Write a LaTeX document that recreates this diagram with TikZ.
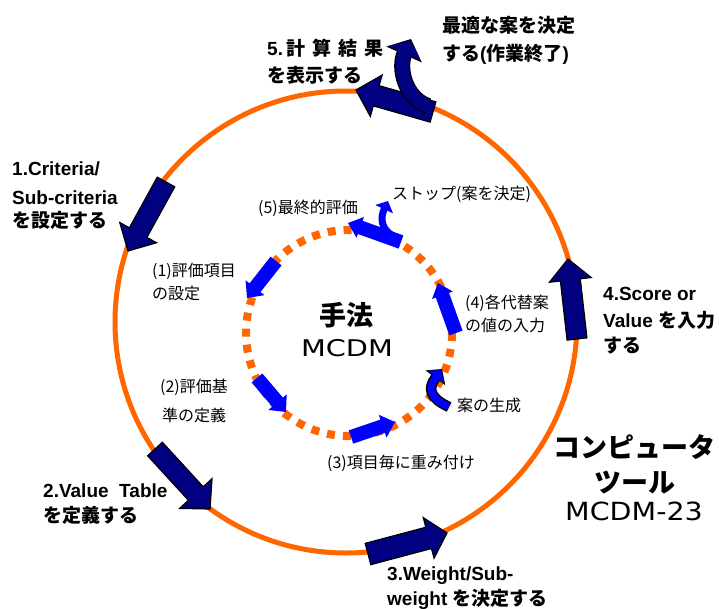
\documentclass[tikz,border=0pt]{standalone}
\usepackage{fontspec}
\usepackage{graphicx}
\setmainfont{Noto Sans CJK JP}
\newfontfamily\lat{Liberation Sans}
\newfontfamily\dvs{DejaVu Sans}
\usetikzlibrary{calc,arrows.meta}
\definecolor{navyc}{RGB}{0,0,128}
\definecolor{orangec}{RGB}{255,102,0}
\definecolor{bluec}{RGB}{0,0,255}
% style, tail, tip, body half width, head half width, head length
\newcommand\blockarrow[6]{%
  \coordinate (#2h) at ($(#3)!#6!(#2)$);
  \path[#1] ($(#2)!#4!90:(#3)$) -- ($(#2h)!#4!90:(#3)$) -- ($(#2h)!#5!90:(#3)$) -- (#3)
    -- ($(#2h)!#5!-90:(#3)$) -- ($(#2h)!#4!-90:(#3)$) -- ($(#2)!#4!-90:(#3)$) -- cycle;}
\tikzset{
  outerarrow/.style={fill=navyc, draw=black, line width=1.2pt, line join=miter},
  innerarrow/.style={fill=bluec},
  outerlbl/.style={anchor=base west, inner sep=0pt, font=\fontsize{19}{19}\selectfont\bfseries},
  innerlbl/.style={anchor=base west, inner sep=0pt, font=\fontsize{16}{16}\selectfont},
  biglbl/.style={anchor=base, inner sep=0pt, font=\fontsize{27}{27}\selectfont\bfseries},
  latlbl/.style={anchor=base, inner sep=0pt},
}
\begin{document}
\begin{tikzpicture}[x=1pt,y=-1pt]
\useasboundingbox (0,0) rectangle (719,608);
% circles
\coordinate (oc) at (346,322);
\draw[orangec, line width=5pt] (oc) circle[radius=231];
\coordinate (ic) at (349,333);
\draw[orangec, line width=8pt, dash pattern=on 8pt off 8pt] (ic) circle[radius=103];

% outer block arrows
\coordinate (a1t) at (166,182); \coordinate (a1e) at (128,251);
\blockarrow{outerarrow}{a1t}{a1e}{10pt}{21pt}{21pt}
\coordinate (a2t) at (155,449); \coordinate (a2e) at (210,509);
\blockarrow{outerarrow}{a2t}{a2e}{10pt}{22pt}{21pt}
\coordinate (a3t) at (368,554); \coordinate (a3e) at (447,533);
\blockarrow{outerarrow}{a3t}{a3e}{11pt}{21pt}{19pt}
\coordinate (a4t) at (577,339); \coordinate (a4e) at (568,259);
\blockarrow{outerarrow}{a4t}{a4e}{10pt}{21pt}{21pt}
\coordinate (a5t) at (433,112); \coordinate (a5e) at (356,90);
\blockarrow{outerarrow}{a5t}{a5e}{10.5pt}{21.5pt}{21pt}
% branch of arrow 5
\coordinate (b5s) at (428,106); \coordinate (b5c1) at (405,98);
\coordinate (b5c2) at (398,68); \coordinate (b5e) at (411,39);
\draw[black, line width=16pt, -{Triangle[width=38pt,length=17pt]}] (b5s) .. controls (b5c1) and (b5c2) .. (b5e);
\draw[navyc, line width=13.5pt, shorten >=1.6pt, -{Triangle[width=34pt,length=14pt]}] (b5s) .. controls (b5c1) and (b5c2) .. (b5e);

% inner arrows
\coordinate (i1t) at (276,261); \coordinate (i1e) at (247,298);
\blockarrow{innerarrow}{i1t}{i1e}{7pt}{12pt}{13pt}
\coordinate (i2t) at (257,378); \coordinate (i2e) at (286,412);
\blockarrow{innerarrow}{i2t}{i2e}{7pt}{12pt}{13pt}
\coordinate (i3t) at (351,437); \coordinate (i3e) at (395,422);
\blockarrow{innerarrow}{i3t}{i3e}{7pt}{12pt}{13pt}
\coordinate (i4t) at (456,333); \coordinate (i4e) at (438,283);
\blockarrow{innerarrow}{i4t}{i4e}{7pt}{11pt}{13pt}
\coordinate (i5t) at (401,242); \coordinate (i5e) at (348,223);
\blockarrow{innerarrow}{i5t}{i5e}{7pt}{11pt}{13pt}
% branch of inner arrow 5
\coordinate (b6s) at (393,236); \coordinate (b6c1) at (381,229);
\coordinate (b6c2) at (380,218); \coordinate (b6e) at (388,201);
\draw[bluec, line width=7pt, -{Triangle[width=19pt,length=9pt]}] (b6s) .. controls (b6c1) and (b6c2) .. (b6e);
% generation arrow
\coordinate (g1s) at (449,407); \coordinate (g1c1) at (430,398);
\coordinate (g1c2) at (427,389); \coordinate (g1e) at (442,369);
\draw[black, line width=10.5pt, -{Triangle[width=24pt,length=11pt]}] (g1s) .. controls (g1c1) and (g1c2) .. (g1e);
\draw[bluec, line width=7.5pt, shorten >=1.5pt, -{Triangle[width=20pt,length=8.5pt]}] (g1s) .. controls (g1c1) and (g1c2) .. (g1e);

% outer labels
\node[outerlbl] (l5a) at (267,55) {{\lat 5.}\hspace{3pt}計\hspace{7pt}算\hspace{7pt}結\hspace{7pt}果};
\node[outerlbl] (l5b) at (267,82) {を表示する};
\node[outerlbl] (l6a) at (442,32) {最適な案を決定};
\node[outerlbl] (l6b) at (442,60) {する{\lat(}作業終了{\lat)}};
\node[outerlbl] (l1a) at (12,175) {\lat 1.Criteria/};
\node[outerlbl] (l1b) at (12,204) {\lat Sub-criteria};
\node[outerlbl] (l1c) at (12,227) {を設定する};
\node[outerlbl] (l2a) at (43,497) {\lat 2.Value\ \ Table};
\node[outerlbl] (l2b) at (43,522) {を定義する};
\node[outerlbl] (l3a) at (387,580) {\lat 3.Weight/Sub-};
\node[outerlbl] (l3b) at (387,605) {{\lat weight }を決定する};
\node[outerlbl] (l4a) at (603,300) {\lat 4.Score or};
\node[outerlbl] (l4b) at (603,327) {{\lat Value }を入力};
\node[outerlbl] (l4c) at (603,352) {する};

% inner labels
\node[innerlbl] (k5) at (258,213) {(5)最終的評価};
\node[innerlbl] (ks) at (392,199) {ストップ(案を決定)};
\node[innerlbl] (k1a) at (152,276) {(1)評価項目};
\node[innerlbl] (k1b) at (152,299) {の設定};
\node[innerlbl] (k2a) at (160,392) {(2)評価基};
\node[innerlbl] (k2b) at (162,421) {準の定義};
\node[innerlbl] (k3) at (327,468) {(3)項目毎に重み付け};
\node[innerlbl] (kg) at (457,411) {案の生成};
\node[innerlbl] (k4a) at (465,308) {(4)各代替案};
\node[innerlbl] (k4b) at (465,331) {の値の入力};

% centre and tool labels
\node[biglbl] (tech) at (346,325) {手法};
\node[latlbl, font=\dvs\fontsize{23}{23}\selectfont] (mcdm) at (347,356) {\scalebox{1.25}[1]{MCDM}};
\node[biglbl] (comp) at (634,457) {コンピュータ};
\node[biglbl] (tool) at (635,492) {ツール};
\node[latlbl, font=\dvs\fontsize{25}{25}\selectfont] (mcdm23) at (634,520) {\scalebox{1.14}[1]{MCDM-23}};
\end{tikzpicture}
\end{document}
